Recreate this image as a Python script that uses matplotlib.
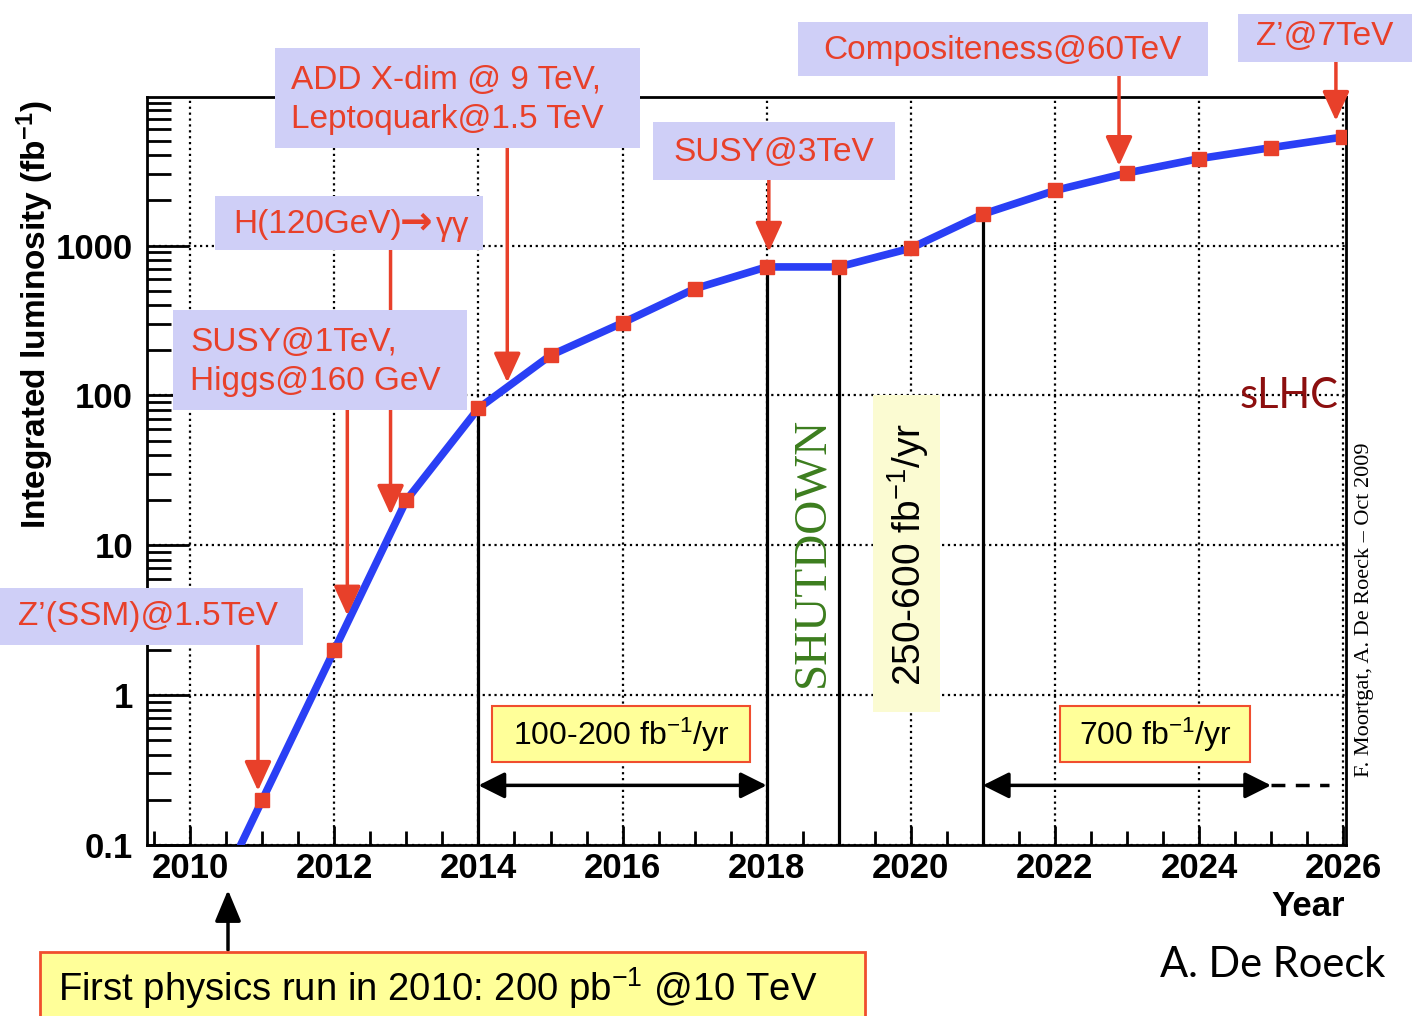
"""
LHC integrated luminosity outlook (2010-2026) with physics reach labels.
"""

import matplotlib
matplotlib.use("Agg")
import matplotlib.pyplot as plt
from matplotlib.patches import Rectangle, FancyArrowPatch
from matplotlib.ticker import MultipleLocator, LogLocator, NullFormatter, FixedLocator

plt.rcParams["font.family"] = ["Liberation Sans", "DejaVu Sans"]
plt.rcParams["mathtext.fontset"] = "custom"
plt.rcParams["mathtext.rm"] = "Liberation Sans"
plt.rcParams["mathtext.bf"] = "Liberation Sans:bold"
plt.rcParams["mathtext.it"] = "Liberation Sans:italic"

# ---- data ----------------------------------------------------------------
years = [2011, 2012, 2013, 2014, 2015, 2016, 2017, 2018,
         2019, 2020, 2021, 2022, 2023, 2024, 2025, 2026]
lumi = [0.2, 2.0, 20, 82, 185, 305, 515, 720,
        720, 960, 1620, 2330, 3050, 3800, 4500, 5300]
curve_start = (2010.7, 0.1)          # where the blue curve leaves the bottom axis

drop_years = [2014, 2018, 2019, 2021]  # black verticals down from the curve

# rate periods (double arrows)
period_start = [2014, 2021]
period_end = [2018, 2025]
period_level = 0.25
period_dash_end = 2025.8

# red "reach" arrows: x, arrow tip, arrow tail (data units)
reach_x = [2010.94, 2012.18, 2012.78, 2014.40, 2018.03, 2022.89, 2025.90]
reach_tip = [0.23, 3.4, 16, 122, 910, 3400, 6800]
reach_tail = [2.2, 83, 984, 4760, 2900, 14500, 18000]

y_ticks = [0.1, 1, 10, 100, 1000]
y_ticklabels = ["0.1", "1", "10", "100", "1000"]

RED = "#e8402a"
LAV = "#cfcff7"
BLUE = "#2a3ff5"
YEL = "#ffff99"

W, H = 1412, 1016


def fx(px):
    return px / W


def fy(py):
    return 1 - py / H


def box(fig, x0, x1, y0, y1, fc, ec="none", lw=0):
    fig.add_artist(Rectangle((fx(x0), fy(y1)), fx(x1) - fx(x0), fy(y0) - fy(y1),
                             transform=fig.transFigure, facecolor=fc,
                             edgecolor=ec, lw=lw, zorder=2))


def main():
    fig = plt.figure(figsize=(W / 100, H / 100), dpi=100)
    ax = fig.add_axes([fx(147), fy(845), fx(1346) - fx(147), fy(97) - fy(845)])

    ax.set_yscale("log")
    ax.set_xlim(2009.4, 2026.04)
    ax.set_ylim(0.1, 9800)

    ax.yaxis.set_major_locator(FixedLocator(y_ticks))
    ax.set_yticklabels(y_ticklabels)
    ax.yaxis.set_minor_locator(LogLocator(base=10, subs=range(2, 10)))
    ax.yaxis.set_minor_formatter(NullFormatter())
    ax.xaxis.set_major_locator(MultipleLocator(2))
    ax.xaxis.set_minor_locator(MultipleLocator(0.5))

    ax.tick_params(which="both", direction="in", top=False, right=False, width=2)
    ax.tick_params(axis="y", which="major", length=30, pad=10)
    ax.tick_params(axis="y", which="minor", length=17)
    ax.tick_params(axis="x", which="major", length=14, pad=5)
    ax.tick_params(axis="x", which="minor", length=10)
    for lab in ax.get_xticklabels() + ax.get_yticklabels():
        lab.set_fontsize(25)
        lab.set_fontweight("bold")

    for sp in ax.spines.values():
        sp.set_linewidth(2)

    ax.grid(True, which="major", linestyle=":", color="k", lw=1.6)

    # curve and points
    ax.plot([curve_start[0]] + years, [curve_start[1]] + lumi,
            color=BLUE, lw=5.5, solid_capstyle="round", zorder=3)
    ax.plot(years, lumi, "s", color=RED, ms=10, zorder=4)

    for yr in drop_years:
        ax.vlines(yr, 0.1, lumi[years.index(yr)], color="k", lw=2.3, zorder=2)

    # rate periods
    for x0, x1 in zip(period_start, period_end):
        ax.annotate("", xy=(x1, period_level), xytext=(x0, period_level),
                    arrowprops=dict(arrowstyle="<|-|>,head_length=1.0,head_width=0.5",
                                    mutation_scale=16, lw=2.5, color="k",
                                    shrinkA=0, shrinkB=0), zorder=3)
    ax.plot([period_end[-1], period_dash_end], [period_level, period_level],
            color="k", lw=2.5, ls=(0, (4, 3)), zorder=3)

    # red reach arrows
    for x, tip, tail in zip(reach_x, reach_tip, reach_tail):
        ax.annotate("", xy=(x, tip), xytext=(x, tail), annotation_clip=False,
                    arrowprops=dict(arrowstyle="-|>,head_length=1.2,head_width=0.55",
                                    mutation_scale=15, lw=2.5, color=RED,
                                    shrinkA=0, shrinkB=0), zorder=5)

    # lavender label boxes
    tkw = dict(color=RED, zorder=3)
    box(fig, 0, 303, 588, 645, LAV)
    fig.text(fx(148), fy(617), "Z’(SSM)@1.5TeV", ha="center", va="center", fontsize=24, **tkw)
    box(fig, 173, 467, 310, 410, LAV)
    fig.text(fx(190), fy(362), "SUSY@1TeV,\nHiggs@160 GeV", ha="left", va="center",
             linespacing=1.35, fontsize=24, **tkw)
    box(fig, 215, 483, 196, 250, LAV)
    fig.text(fx(233), fy(224), "H(120GeV)", ha="left", va="center", fontsize=24, **tkw)
    fig.text(fx(400), fy(222), "→", ha="left", va="center", fontsize=28,
             family=["DejaVu Sans"], fontweight="bold", **tkw)
    fig.text(fx(436), fy(226), "γγ", ha="left", va="center", fontsize=24, **tkw)
    box(fig, 275, 640, 48, 148, LAV)
    fig.text(fx(291), fy(100), "ADD X-dim @ 9 TeV,\nLeptoquark@1.5 TeV", ha="left",
             va="center", linespacing=1.35, fontsize=24, **tkw)
    box(fig, 653, 895, 122, 180, LAV)
    fig.text(fx(774), fy(152), "SUSY@3TeV", ha="center", va="center", fontsize=24, **tkw)
    box(fig, 798, 1208, 22, 76, LAV)
    fig.text(fx(1002), fy(50), "Compositeness@60TeV", ha="center", va="center",
             fontsize=24, **tkw)
    box(fig, 1238, 1412, 14, 62, LAV)
    fig.text(fx(1325), fy(37), "Z’@7TeV", ha="center", va="center", fontsize=24, **tkw)

    # yellow rate boxes
    box(fig, 492, 750, 706, 762, YEL, ec="#f04e2e", lw=1.5)
    fig.text(fx(621), fy(735), "100-200 fb$^{-1}$/yr", ha="center", va="center",
             fontsize=23, zorder=3)
    box(fig, 1060, 1250, 706, 762, YEL, ec="#f04e2e", lw=1.5)
    fig.text(fx(1155), fy(735), "700 fb$^{-1}$/yr", ha="center", va="center",
             fontsize=23, zorder=3)
    box(fig, 873, 940, 395, 712, "#fbfbd2")
    fig.text(fx(908), fy(555), "250-600 fb$^{-1}$/yr", ha="center", va="center",
             rotation=90, fontsize=28, zorder=3)

    fig.text(fx(812), fy(552), "SHUTDOWN", ha="center", va="center", rotation=90,
             fontsize=34, color="#3c7d1e", family=["Liberation Serif", "DejaVu Serif"],
             zorder=3)
    fig.text(fx(1289), fy(396), "sLHC", ha="center", va="center", fontsize=30,
             color="#8c0f0f", family=["Lato", "DejaVu Sans"], zorder=3)
    fig.text(fx(1364), fy(610), "F. Moortgat, A. De Roeck – Oct 2009", ha="center",
             va="center", rotation=90, fontsize=16,
             family=["Liberation Serif", "DejaVu Serif"], zorder=3)

    # axis titles
    fig.text(fx(35), fy(315), "Integrated luminosity (fb$^{\\mathbf{-1}}$)", ha="center",
             va="center", rotation=90, fontsize=24, fontweight="bold")
    fig.text(fx(1345), fy(906), "Year", ha="right", va="center", fontsize=25,
             fontweight="bold")

    # bottom note
    box(fig, 40, 865, 952, 1020, YEL, ec="#f04e2e", lw=2)
    fig.text(fx(58), fy(988), "First physics run in 2010: 200 pb$^{-1}$ @10 TeV",
             ha="left", va="center", fontsize=27.5, zorder=3)
    fig.add_artist(FancyArrowPatch(
        (fx(228), fy(950)), (fx(228), fy(890)), transform=fig.transFigure,
        arrowstyle="-|>,head_length=1.2,head_width=0.5", mutation_scale=16,
        lw=2.5, color="k", shrinkA=0, shrinkB=0))

    fig.text(fx(1273), fy(965), "A. De Roeck", ha="center", va="center", fontsize=30,
             family=["Lato", "DejaVu Sans"])

    fig.savefig("out.png", dpi=100)
    return 0


if __name__ == "__main__":
    raise SystemExit(main())
